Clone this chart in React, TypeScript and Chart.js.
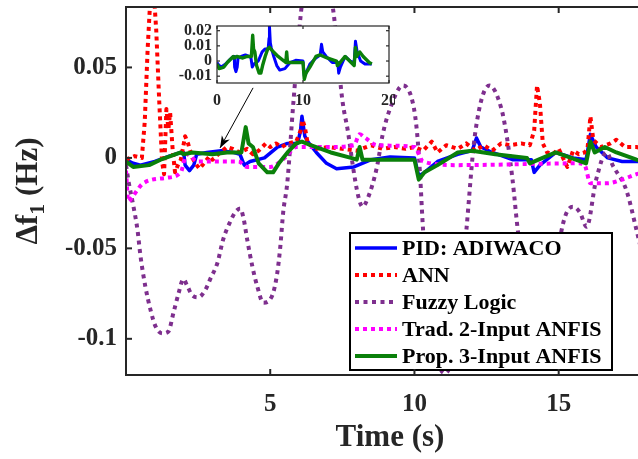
import React, { useEffect, useRef } from "react";
import { Chart, registerables } from "chart.js";

Chart.register(...registerables);

const FONT = '"Liberation Serif", "Times New Roman", Times, serif';
const AXIS = "#262626";

// ---------- data (time in s, deviation in Hz) ----------
const pidT = [0, 0.25, 0.5, 1.0, 1.5, 1.9, 2.0, 2.05, 2.2, 2.35, 2.45, 2.8, 3.3, 3.75, 3.95, 4.1, 4.3, 4.8, 5.25, 5.6, 5.95, 6.05, 6.1, 6.2, 6.3, 6.6, 6.95, 7.3, 7.9, 8.5, 9.15, 10.0, 10.15, 10.35, 10.8, 11.5, 12.0, 12.15, 12.3, 12.7, 13.4, 14.05, 14.15, 14.35, 14.9, 15.5, 15.95, 16.1, 16.3, 16.7, 17.2, 18];
const pidV = [-0.001, -0.003, -0.004, -0.002, 0.001, 0.003, 0.003, -0.004, -0.007, -0.004, 0.002, 0.003, 0.004, 0.003, 0.002, -0.004, -0.002, 0.0, 0.006, 0.008, 0.008, 0.015, 0.023, 0.012, 0.009, 0.003, -0.003, -0.006, -0.005, -0.001, 0.0005, 0.0, -0.010, -0.008, -0.002, 0.002, 0.004, 0.011, 0.006, 0.003, -0.001, -0.001, -0.008, -0.004, 0.003, 0.0, -0.001, 0.013, 0.006, 0.0, -0.002, -0.002];

const annT = [0, 0.3, 0.55, 0.65, 0.75, 0.85, 0.95, 1.05, 1.15, 1.25, 1.32, 1.4, 1.47, 1.53, 1.62, 1.7, 1.8, 1.9, 2.05, 2.15, 2.3, 2.45, 2.55, 2.7, 2.9, 3.0, 3.2, 3.5, 3.7, 3.95, 4.2, 4.4, 4.6, 4.85, 5.0, 5.2, 5.4, 5.6, 5.9, 6.05, 6.12, 6.2, 6.3, 6.6, 7.0, 7.5, 8.0, 8.5, 8.9, 9.3, 9.7, 10.0, 10.3, 10.6, 10.8, 11.1, 11.5, 11.8, 12.1, 12.4, 12.7, 13.0, 13.3, 13.7, 14.0, 14.15, 14.25, 14.35, 14.45, 14.6, 14.8, 15.0, 15.3, 15.5, 15.7, 15.9, 16.0, 16.1, 16.2, 16.45, 16.8, 17.0, 17.3, 17.7, 18];
const annV = [-0.001, 0.001, 0.0, 0.02, 0.06, 0.09, 0.095, 0.07, 0.032, -0.002, -0.009, 0.027, 0.016, 0.025, 0.004, -0.008, -0.004, -0.001, 0.012, 0.008, 0.0, -0.004, -0.006, -0.003, 0.001, -0.001, 0.002, 0.006, 0.005, 0.003, 0.005, 0.002, 0.004, 0.008, 0.006, 0.008, 0.006, 0.008, 0.009, 0.015, 0.021, 0.017, 0.008, 0.005, 0.006, 0.005, 0.004, 0.007, 0.005, 0.006, 0.005, 0.006, 0.004, 0.009, 0.003, 0.007, 0.005, 0.008, 0.004, 0.007, 0.004, 0.008, 0.007, 0.008, 0.007, 0.015, 0.040, 0.030, 0.008, 0.003, 0.002, 0.005, -0.005, 0.004, 0.002, 0.003, 0.005, 0.023, 0.010, 0.006, 0.008, 0.010, 0.006, 0.006, 0.005];

const fuzzyT = [0, 0.1, 0.26, 0.4, 0.5, 0.67, 0.85, 1.02, 1.26, 1.47, 1.64, 1.82, 1.99, 2.13, 2.3, 2.51, 2.75, 2.92, 3.17, 3.37, 3.62, 3.79, 3.96, 4.07, 4.2, 4.38, 4.55, 4.76, 5.07, 5.24, 5.35, 5.45, 5.59, 5.8, 6.1, 6.6, 7.18, 7.5, 7.7, 7.87, 8.05, 8.2, 8.39, 8.7, 8.9, 9.15, 9.6, 9.95, 10.09, 10.19, 10.3, 10.6, 11.05, 11.5, 11.8, 12.1, 12.6, 13.0, 13.2, 13.4, 13.6, 14.0, 14.5, 14.9, 15.1, 15.49, 15.73, 15.97, 16.3, 16.66, 16.87, 17.35, 17.7, 18];
const fuzzyV = [-0.004, -0.014, -0.027, -0.040, -0.054, -0.071, -0.084, -0.093, -0.097, -0.096, -0.086, -0.075, -0.067, -0.071, -0.076, -0.077, -0.073, -0.067, -0.058, -0.045, -0.035, -0.030, -0.028, -0.033, -0.045, -0.060, -0.071, -0.080, -0.076, -0.064, -0.049, -0.030, -0.014, 0.030, 0.085, 0.12, 0.082, 0.032, 0.014, -0.005, -0.021, -0.027, -0.022, -0.005, 0.013, 0.027, 0.040, 0.030, 0.014, -0.008, -0.040, -0.095, -0.119, -0.095, -0.040, 0.013, 0.040, 0.028, 0.012, -0.012, -0.042, -0.075, -0.090, -0.065, -0.040, -0.027, -0.030, -0.038, -0.012, 0.003, -0.004, -0.018, -0.040, -0.06];

const tradT = [0, 0.08, 0.2, 0.6, 1.4, 1.9, 2.1, 2.5, 3.2, 3.9, 4.2, 5.0, 5.5, 5.9, 7.0, 7.9, 8.1, 8.3, 8.7, 10.0, 10.3, 11.5, 15.7, 15.9, 16.1, 16.7, 17.2, 17.7, 18];
const tradV = [-0.007, -0.024, -0.022, -0.014, -0.011, -0.008, 0.002, -0.002, -0.002, -0.002, -0.005, -0.005, 0.0, 0.006, 0.006, 0.007, 0.013, 0.011, 0.007, 0.006, -0.002, -0.004, -0.003, -0.004, -0.014, -0.014, -0.012, -0.009, -0.008];

const propT = [0, 0.25, 0.8, 1.2, 1.9, 2.0, 2.3, 3.0, 3.5, 4.0, 4.15, 4.25, 4.4, 4.6, 4.9, 5.1, 5.3, 5.6, 5.9, 6.1, 6.4, 7.1, 7.8, 8.0, 8.1, 8.2, 8.8, 10.0, 10.15, 10.35, 10.8, 11.5, 12.0, 12.8, 13.9, 14.0, 14.3, 14.9, 15.95, 16.1, 16.25, 16.6, 17.0, 17.7, 18];
const propV = [-0.002, -0.005, -0.004, -0.001, 0.003, 0.002, 0.003, 0.002, 0.003, 0.003, 0.017, 0.008, 0.006, -0.003, -0.008, -0.008, -0.003, 0.003, 0.008, 0.009, 0.007, 0.003, 0.0, -0.001, 0.006, -0.001, -0.001, -0.001, -0.012, -0.008, -0.004, 0.003, 0.004, 0.002, 0.0, -0.003, -0.001, 0.003, -0.003, 0.009, 0.003, 0.006, 0.003, -0.001, -0.002];

const seriesNames = ["PID: ADIWACO", "ANN", "Fuzzy Logic", "Trad. 2-Input ANFIS", "Prop. 3-Input ANFIS"];
const seriesColors = ["#0000FF", "#FF0000", "#7E2F8E", "#FF00FF", "#0A800A"];

// ---------- axes ----------
const xTicks = [5, 10, 15];
const yTicks = [-0.1, -0.05, 0, 0.05];
const yTickLabels = ["-0.1", "-0.05", "0", "0.05"];
const xRange = [0, 17.75];
const yRange = [-0.12, 0.0834];
const xTitle = "Time (s)";
const yTitleMain = "\u0394f";
const yTitleSub = "1";
const yTitleTail = " (Hz)";

const insetXTicks = [0, 10, 20];
const insetYTicks = [-0.01, 0, 0.01, 0.02];
const insetYTickLabels = ["-0.01", "0", "0.01", "0.02"];
const insetXRange = [0, 20];
const insetYRange = [-0.0145, 0.0231];

const arrowFrom = [4.405, 0.0387];
const arrowTo = [3.26, 0.0055];

// ---------- styles ----------
const lineStyles = [
  { dash: [] as number[], width: 3.5, smooth: false },
  { dash: [4, 4], width: 4, smooth: false },
  { dash: [4, 4.5], width: 4, smooth: true },
  { dash: [4, 4], width: 4, smooth: true },
  { dash: [] as number[], width: 4, smooth: false },
];

function zip(t: number[], v: number[]) {
  const n = Math.min(t.length, v.length);
  const out: { x: number; y: number }[] = [];
  for (let i = 0; i < n; i++) out.push({ x: t[i], y: v[i] });
  return out;
}

const seriesData = [zip(pidT, pidV), zip(annT, annV), zip(fuzzyT, fuzzyV), zip(tradT, tradV), zip(propT, propV)];

function makeDataset(i: number, widthScale = 1) {
  const st = lineStyles[i];
  return {
    label: seriesNames[i],
    data: seriesData[i],
    borderColor: seriesColors[i],
    backgroundColor: seriesColors[i],
    borderWidth: st.width * widthScale,
    borderDash: st.dash,
    borderCapStyle: "butt" as const,
    borderJoinStyle: "round" as const,
    pointRadius: 0,
    fill: false,
    tension: 0,
    cubicInterpolationMode: st.smooth ? ("monotone" as const) : ("default" as const),
    order: 5 - i,
  };
}

function line(ctx: CanvasRenderingContext2D, x1: number, y1: number, x2: number, y2: number) {
  ctx.beginPath();
  ctx.moveTo(x1, y1);
  ctx.lineTo(x2, y2);
  ctx.stroke();
}

const mainDecor = {
  id: "mainDecor",
  afterDraw(chart: any) {
    const ctx: CanvasRenderingContext2D = chart.ctx;
    const a = chart.chartArea;
    const sx = chart.scales.x;
    const sy = chart.scales.y;
    ctx.save();

    // arrow pointing to the zoomed region
    const x1 = sx.getPixelForValue(arrowFrom[0]);
    const y1 = sy.getPixelForValue(arrowFrom[1]);
    const x2 = sx.getPixelForValue(arrowTo[0]);
    const y2 = sy.getPixelForValue(arrowTo[1]);
    ctx.strokeStyle = "#000";
    ctx.fillStyle = "#000";
    ctx.lineWidth = 1;
    line(ctx, x1, y1, x2, y2);
    const ang = Math.atan2(y2 - y1, x2 - x1);
    const L = 12, W = 4.5;
    const bx = x2 - L * Math.cos(ang), by = y2 - L * Math.sin(ang);
    ctx.beginPath();
    ctx.moveTo(x2, y2);
    ctx.lineTo(bx + W * Math.sin(ang), by - W * Math.cos(ang));
    ctx.lineTo(x2 - 0.7 * L * Math.cos(ang), y2 - 0.7 * L * Math.sin(ang));
    ctx.lineTo(bx - W * Math.sin(ang), by + W * Math.cos(ang));
    ctx.closePath();
    ctx.fill();

    // legend
    const box = { l: 350, t: 233, r: 612, b: 370 };
    ctx.fillStyle = "#fff";
    ctx.fillRect(box.l, box.t, box.r - box.l, box.b - box.t);
    ctx.strokeStyle = "#000";
    ctx.lineWidth = 2;
    ctx.strokeRect(box.l, box.t, box.r - box.l, box.b - box.t);
    chart.data.datasets.forEach((ds: any, i: number) => {
      const y = 248 + i * 27;
      ctx.strokeStyle = ds.borderColor;
      ctx.lineWidth = ds.borderWidth;
      ctx.setLineDash(ds.borderDash || []);
      line(ctx, 355, y, 397, y);
      ctx.setLineDash([]);
      ctx.fillStyle = "#000";
      ctx.font = `bold 22px ${FONT}`;
      ctx.textAlign = "left";
      ctx.textBaseline = "middle";
      ctx.fillText(ds.label, 402, y + 1);
    });

    // frame + inward ticks
    ctx.strokeStyle = AXIS;
    ctx.lineWidth = 2;
    line(ctx, a.left, a.top, a.left, a.bottom + 1);
    line(ctx, a.left - 1, a.bottom, a.right, a.bottom);
    line(ctx, a.left - 1, a.top, a.right, a.top);
    yTicks.forEach((v) => {
      const y = sy.getPixelForValue(v);
      line(ctx, a.left, y, a.left + 6, y);
    });
    xTicks.forEach((v) => {
      const x = sx.getPixelForValue(v);
      line(ctx, x, a.bottom, x, a.bottom - 6);
      line(ctx, x, a.top, x, a.top + 6);
    });

    // axis titles
    ctx.fillStyle = AXIS;
    ctx.font = `bold 31px ${FONT}`;
    ctx.textAlign = "center";
    ctx.textBaseline = "middle";
    ctx.fillText(xTitle, 390, 438);

    ctx.save();
    ctx.translate(37, 191);
    ctx.rotate(-Math.PI / 2);
    ctx.textAlign = "left";
    ctx.textBaseline = "alphabetic";
    const bigFont = `bold 31px ${FONT}`;
    const smallFont = `bold 22px ${FONT}`;
    ctx.font = bigFont;
    const w1 = ctx.measureText(yTitleMain).width;
    const w3 = ctx.measureText(yTitleTail).width;
    ctx.font = smallFont;
    const w2 = ctx.measureText(yTitleSub).width;
    let x = -(w1 + w2 + w3) / 2;
    ctx.font = bigFont;
    ctx.fillText(yTitleMain, x, 0);
    x += w1;
    ctx.font = smallFont;
    ctx.fillText(yTitleSub, x, 7);
    x += w2;
    ctx.font = bigFont;
    ctx.fillText(yTitleTail, x, 0);
    ctx.restore();

    ctx.restore();
  },
};

const insetDecor = {
  id: "insetDecor",
  beforeDatasetsDraw(chart: any) {
    const ctx: CanvasRenderingContext2D = chart.ctx;
    const a = chart.chartArea;
    ctx.save();
    ctx.fillStyle = "#fff";
    ctx.fillRect(a.left, a.top, a.right - a.left, a.bottom - a.top);
    ctx.restore();
  },
  afterDraw(chart: any) {
    const ctx: CanvasRenderingContext2D = chart.ctx;
    const a = chart.chartArea;
    const sx = chart.scales.x;
    const sy = chart.scales.y;
    ctx.save();
    ctx.strokeStyle = AXIS;
    ctx.lineWidth = 1.2;
    ctx.strokeRect(a.left, a.top, a.right - a.left, a.bottom - a.top);
    insetYTicks.forEach((v) => {
      const y = sy.getPixelForValue(v);
      line(ctx, a.left, y, a.left + 3, y);
      line(ctx, a.right, y, a.right - 3, y);
    });
    insetXTicks.forEach((v) => {
      const x = sx.getPixelForValue(v);
      line(ctx, x, a.bottom, x, a.bottom - 3);
      line(ctx, x, a.top, x, a.top + 3);
    });
    ctx.restore();
  },
};

function findLabel(vals: number[], labels: string[], v: number) {
  const i = vals.findIndex((t) => Math.abs(t - v) < 1e-9);
  return i >= 0 ? labels[i] : "";
}

function noPad(s: any) {
  s.paddingTop = 0;
  s.paddingBottom = 0;
  s.paddingLeft = 0;
  s.paddingRight = 0;
}

export default function App() {
  const mainRef = useRef<HTMLCanvasElement>(null);
  const insetRef = useRef<HTMLCanvasElement>(null);

  useEffect(() => {
    const tickFont = { family: FONT, size: 25, weight: "bold" as const };
    const main = new Chart(mainRef.current as HTMLCanvasElement, {
      type: "line",
      data: { datasets: [0, 1, 2, 3, 4].map((i) => makeDataset(i)) as any },
      options: {
        animation: false,
        responsive: false,
        devicePixelRatio: 1,
        parsing: false as any,
        layout: { padding: { top: 7, right: 0, bottom: 0, left: 0 } },
        plugins: { legend: { display: false }, tooltip: { enabled: false }, title: { display: false } },
        scales: {
          x: {
            type: "linear",
            min: xRange[0],
            max: xRange[1],
            grid: { display: false, drawTicks: false },
            border: { display: false },
            afterBuildTicks: (s: any) => {
              s.ticks = xTicks.map((v) => ({ value: v }));
            },
            afterFit: (s: any) => {
              s.height = 84;
              noPad(s);
            },
            ticks: {
              padding: 15,
              color: AXIS,
              font: tickFont,
              maxRotation: 0,
              autoSkip: false,
              callback: (v: any) => String(v),
            },
          },
          y: {
            type: "linear",
            min: yRange[0],
            max: yRange[1],
            grid: { display: false, drawTicks: false },
            border: { display: false },
            afterBuildTicks: (s: any) => {
              s.ticks = yTicks.map((v) => ({ value: v }));
            },
            afterFit: (s: any) => {
              s.width = 126;
              noPad(s);
            },
            ticks: {
              padding: 9,
              color: AXIS,
              font: tickFont,
              autoSkip: false,
              callback: (v: any) => findLabel(yTicks, yTickLabels, Number(v)),
            },
          },
        },
      },
      plugins: [mainDecor],
    });

    const insetFont = { family: FONT, size: 16, weight: "bold" as const };
    const inset = new Chart(insetRef.current as HTMLCanvasElement, {
      type: "line",
      data: { datasets: [0, 4].map((i) => makeDataset(i, 0.85)) as any },
      options: {
        animation: false,
        responsive: false,
        devicePixelRatio: 1,
        parsing: false as any,
        layout: { padding: { top: 6, right: 6, bottom: 0, left: 0 } },
        plugins: { legend: { display: false }, tooltip: { enabled: false }, title: { display: false } },
        scales: {
          x: {
            type: "linear",
            min: insetXRange[0],
            max: insetXRange[1],
            grid: { display: false, drawTicks: false },
            border: { display: false },
            afterBuildTicks: (s: any) => {
              s.ticks = insetXTicks.map((v) => ({ value: v }));
            },
            afterFit: (s: any) => {
              s.height = 32;
              noPad(s);
            },
            ticks: { padding: 8, color: AXIS, font: insetFont, maxRotation: 0, autoSkip: false, callback: (v: any) => String(v) },
          },
          y: {
            type: "linear",
            min: insetYRange[0],
            max: insetYRange[1],
            grid: { display: false, drawTicks: false },
            border: { display: false },
            afterBuildTicks: (s: any) => {
              s.ticks = insetYTicks.map((v) => ({ value: v }));
            },
            afterFit: (s: any) => {
              s.width = 47;
              noPad(s);
            },
            ticks: {
              padding: 5,
              color: AXIS,
              font: insetFont,
              autoSkip: false,
              callback: (v: any) => findLabel(insetYTicks, insetYTickLabels, Number(v)),
            },
          },
        },
      },
      plugins: [insetDecor],
    });

    return () => {
      main.destroy();
      inset.destroy();
    };
  }, []);

  return (
    <div style={{ position: "absolute", left: 0, top: 0, width: 638, height: 459, background: "#fff", overflow: "hidden" }}>
      <canvas ref={mainRef} width={638} height={459} style={{ position: "absolute", left: 0, top: 0 }} />
      <canvas ref={insetRef} width={225} height={95} style={{ position: "absolute", left: 170, top: 20 }} />
    </div>
  );
}
